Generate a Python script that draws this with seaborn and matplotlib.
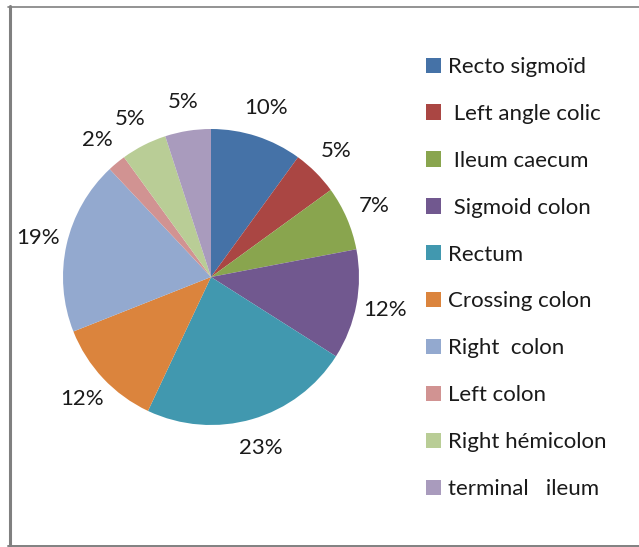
import matplotlib
matplotlib.use("Agg")
import matplotlib.pyplot as plt
from matplotlib.lines import Line2D
from matplotlib.patches import Patch
import seaborn as sns

categories = ["Recto sigmoïd", " Left angle colic", " Ileum caecum", " Sigmoid colon",
              "Rectum", "Crossing colon", "Right  colon", "Left colon",
              "Right hémicolon", "terminal   ileum"]
values = [10, 5, 7, 12, 23, 12, 19, 2, 5, 5]
pct_labels = ["10%", "5%", "7%", "12%", "23%", "12%", "19%", "2%", "5%", "5%"]
colors = ["#4572A7", "#AA4643", "#89A54E", "#71588F", "#4198AF",
          "#DB843D", "#93A9CF", "#D19392", "#B9CD96", "#A99BBD"]

sns.set_style("white")
plt.rcParams["font.family"] = ["Lato", "DejaVu Sans"]

W, H = 639, 547
fig = plt.figure(figsize=(W / 100, H / 100), dpi=100)
fig.patch.set_facecolor("white")

cx, cy, R = 211, 277, 148
ax = fig.add_axes([(cx - R) / W, 1 - (cy + R) / H, 2 * R / W, 2 * R / H])
sns.set_palette(colors)
wedges, texts = ax.pie(values, labels=pct_labels, colors=colors, startangle=90,
                       counterclock=False, labeldistance=1.2,
                       wedgeprops=dict(linewidth=0),
                       textprops=dict(fontsize=16, color="#1a1a1a"))
for t in texts:
    t.set_ha("center")
    t.set_va("center")
ax.set_xlim(-1, 1)
ax.set_ylim(-1, 1)
ax.set_aspect("equal")
ax.axis("off")

handles = [Patch(facecolor=c, edgecolor="none") for c in colors]
fig.legend(handles, categories, loc="upper left",
           bbox_to_anchor=(426 / W, 1 - 57 / H), bbox_transform=fig.transFigure,
           frameon=False, fontsize=16, borderpad=0, borderaxespad=0,
           handlelength=0.68, handleheight=0.68, handletextpad=0.32,
           labelspacing=1.21, labelcolor="#1a1a1a")

gray = "#808080"
fig.add_artist(Line2D([9.5 / W, 9.5 / W], [1 - 6 / H, 1 - 546.5 / H],
                      transform=fig.transFigure, color=gray, linewidth=2.2))
fig.add_artist(Line2D([8 / W, 1.0], [1 - 6.5 / H, 1 - 6.5 / H],
                      transform=fig.transFigure, color=gray, linewidth=1.2))
fig.add_artist(Line2D([8 / W, 1.0], [1 - 546 / H, 1 - 546 / H],
                      transform=fig.transFigure, color=gray, linewidth=1.4))

fig.savefig("out.png", dpi=100)
